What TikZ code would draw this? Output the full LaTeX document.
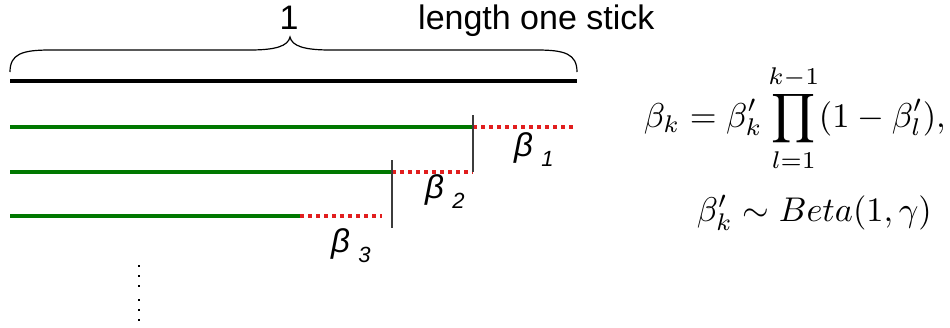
\documentclass[tikz,border=0pt]{standalone}
\usepackage{fontspec}
\usepackage{amsmath}
\usepackage{graphicx}
\newfontfamily\arialf{Liberation Sans}
\definecolor{stickgreen}{RGB}{0,120,0}
\definecolor{stickred}{RGB}{225,30,30}
\definecolor{cutgray}{RGB}{60,60,60}
\begin{document}
\begin{tikzpicture}[x=1pt,y=-1pt,
  greenseg/.style={draw=stickgreen,line width=3.5pt},
  redseg/.style={draw=stickred,line width=3.5pt,dash pattern=on 3.5pt off 4.5pt},
  cutline/.style={draw=cutgray,line width=2pt},
  lbl/.style={inner sep=0pt,font=\arialf\fontsize{34}{34}\selectfont},
  betalbl/.style={inner sep=0pt,anchor=west,font=\arialf\itshape\fontsize{33}{33}\selectfont},
  eq/.style={inner sep=0pt},
  dot/.style={fill=black,inner sep=0pt,minimum size=2.5pt,rectangle}]
\useasboundingbox (0,0) rectangle (950,327);
% stick
\coordinate (s0) at (10,81);
\coordinate (s1) at (577,81);
\draw[line width=3.5pt,line cap=butt] (s0) -- (s1);
% brace
\draw[line width=1.2pt]
  (10,72) .. controls (10,54) and (22,50) .. (50,50) -- (250,50)
  .. controls (276,50) and (288,46) .. (290,37)
  .. controls (292,46) and (304,50) .. (330,50) -- (537,50)
  .. controls (565,50) and (577,54) .. (577,72);
\node[lbl] (one) at (289,18) {1};
\node[lbl,anchor=west] (len) at (418,21) {length one stick};
% pieces
\coordinate (a0) at (10,127);
\coordinate (a1) at (473,127);
\coordinate (a2) at (577,127);
\coordinate (b0) at (10,172);
\coordinate (b1) at (392,172);
\coordinate (b2) at (473,172);
\coordinate (c0) at (10,216);
\coordinate (c1) at (300,216);
\coordinate (c2) at (382,216);
\draw[greenseg] (a0) -- (a1);
\draw[redseg] (a1) -- (a2);
\draw[greenseg] (b0) -- (b1);
\draw[redseg] (b1) -- (b2);
\draw[greenseg] (c0) -- (c1);
\draw[redseg] (c1) -- (c2);
\coordinate (v1t) at (473,115);
\coordinate (v2t) at (392,160);
\coordinate (v2b) at (392,228);
\draw[cutline] (v1t) -- (b2);
\draw[cutline] (v2t) -- (v2b);
% labels
\node[betalbl] (be1) at (514,150) {β\hspace{0.25em}\raisebox{-10pt}{\fontsize{22}{22}\selectfont 1}};
\node[betalbl] (be2) at (425,192) {β\hspace{0.25em}\raisebox{-10pt}{\fontsize{22}{22}\selectfont 2}};
\node[betalbl] (be3) at (331,246) {β\hspace{0.25em}\raisebox{-10pt}{\fontsize{22}{22}\selectfont 3}};
% dots
\foreach \yy [count=\i] in {266,276,286,300,310,320}
  \node[dot] (d\i) at (139,\yy) {};
% equations
\node[eq,anchor=east] (eq1) at (946,118) {\resizebox{302pt}{!}{$\displaystyle \beta_k=\beta'_k\prod_{l=1}^{k-1}(1-\beta'_l),$}};
\node[eq,anchor=east] (eq2) at (932,213) {\resizebox{235pt}{!}{$\beta'_k\sim Beta(1,\gamma)$}};
\end{tikzpicture}
\end{document}
